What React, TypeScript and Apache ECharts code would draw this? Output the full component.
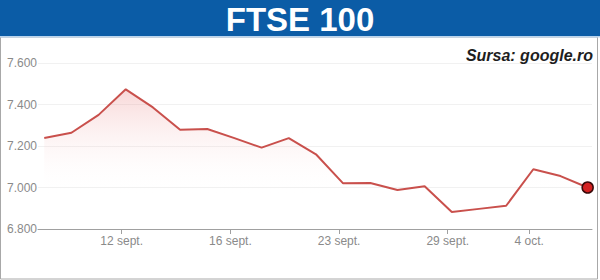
import React, { useEffect, useRef } from "react";
import * as echarts from "echarts";

// Trading days (category labels) and FTSE 100 closes
const dates = [
  "7 sept.", "8 sept.", "9 sept.", "12 sept.", "13 sept.", "14 sept.", "15 sept.",
  "16 sept.", "20 sept.", "21 sept.", "22 sept.", "23 sept.", "26 sept.", "27 sept.",
  "28 sept.", "29 sept.", "30 sept.", "3 oct.", "4 oct.", "5 oct.", "6 oct.",
];
const closes = [
  7239, 7264, 7350, 7473, 7386, 7278, 7282, 7238, 7192, 7238, 7160,
  7020, 7022, 6988, 7006, 6882, 6897, 6912, 7088, 7055, 7000,
];
const tickLabels = ["12 sept.", "16 sept.", "23 sept.", "29 sept.", "4 oct."];
const yTicks = [6800, 7000, 7200, 7400, 7600];

const title = "FTSE 100";
const source = "Sursa: google.ro";

export default function App() {
  const ref = useRef<HTMLDivElement>(null);
  useEffect(() => {
    if (!ref.current) return;
    const chart = echarts.init(ref.current, null, { renderer: "svg" });
    const tickIdx = tickLabels.map((l) => dates.indexOf(l));
    const tickPos = tickIdx.map((i) => i - 0.15);
    const seriesData = closes.map((v, i) => [i, v]);
    const last = closes.length - 1;
    chart.setOption({
      animation: false,
      backgroundColor: "#ffffff",
      textStyle: { fontFamily: "Liberation Sans, Arial, sans-serif" },
      grid: { left: 38, right: 8, top: 63, bottom: 51 },
      xAxis: {
        type: "value",
        min: -0.23,
        max: last + 0.16,
        splitLine: { show: false },
        axisLine: { show: true, onZero: false, lineStyle: { color: "#a0a0a0", width: 1 } },
        axisTick: {
          show: true,
          customValues: tickPos,
          length: 5,
          inside: false,
          lineStyle: { color: "#a0a0a0" },
        },
        axisLabel: {
          customValues: tickPos,
          formatter: (v: number) => dates[Math.round(v)],
          color: "#8a8a8a",
          fontSize: 12,
          margin: 6,
          showMinLabel: true,
          showMaxLabel: true,
        },
      },
      yAxis: {
        type: "value",
        min: yTicks[0],
        max: yTicks[yTicks.length - 1],
        interval: 200,
        axisLine: { show: false },
        axisTick: { show: false },
        splitLine: { show: true, lineStyle: { color: "#f1f1f1", width: 1 } },
        axisLabel: {
          formatter: (v: number) => (v / 1000).toFixed(3),
          color: "#8a8a8a",
          fontSize: 12,
          margin: 1,
        },
      },
      series: [
        {
          type: "line",
          data: seriesData,
          symbol: "none",
          lineStyle: { color: "#c9504c", width: 2 },
          areaStyle: {
            origin: "start",
            color: new echarts.graphic.LinearGradient(0, 0, 0, 1, [
              { offset: 0, color: "rgba(228,100,100,0.36)" },
              { offset: 0.75, color: "rgba(255,255,255,0)" },
              { offset: 1, color: "rgba(255,255,255,0)" },
            ]),
          },
          markPoint: {
            symbol: "circle",
            symbolSize: 11,
            label: { show: false },
            itemStyle: { color: "#d42222", borderColor: "#3a0a0a", borderWidth: 1.5 },
            data: [{ coord: [last, closes[last]] }],
          },
          z: 3,
        },
      ],
      graphic: [
        {
          type: "rect",
          shape: { x: 0.5, y: 37, width: 597, height: 242 },
          style: { fill: "none", stroke: "#a8a8a8", lineWidth: 1 },
          z: 0,
          silent: true,
        },
        {
          type: "rect",
          shape: { x: 0, y: 0, width: 600, height: 36 },
          style: { fill: "#0b5ca6" },
          z: 10,
        },
        {
          type: "rect",
          shape: { x: 0, y: 36, width: 600, height: 1.5 },
          style: { fill: "#b9d4ee" },
          z: 10,
        },
        {
          type: "text",
          x: 300,
          y: 19,
          style: {
            text: title,
            fill: "#ffffff",
            font: "bold 33px 'Liberation Sans', Arial, sans-serif",
            align: "center",
            verticalAlign: "middle",
          },
          z: 11,
        },
        {
          type: "text",
          x: 593,
          y: 55,
          style: {
            text: source,
            fill: "#1e1e1e",
            font: "italic bold 16px 'Liberation Sans', Arial, sans-serif",
            align: "right",
            verticalAlign: "middle",
          },
          z: 11,
        },
      ],
    });
    return () => chart.dispose();
  }, []);
  return (
    <div
      ref={ref}
      style={{ position: "fixed", left: 0, top: 0, width: 600, height: 280, background: "#fff" }}
    />
  );
}
